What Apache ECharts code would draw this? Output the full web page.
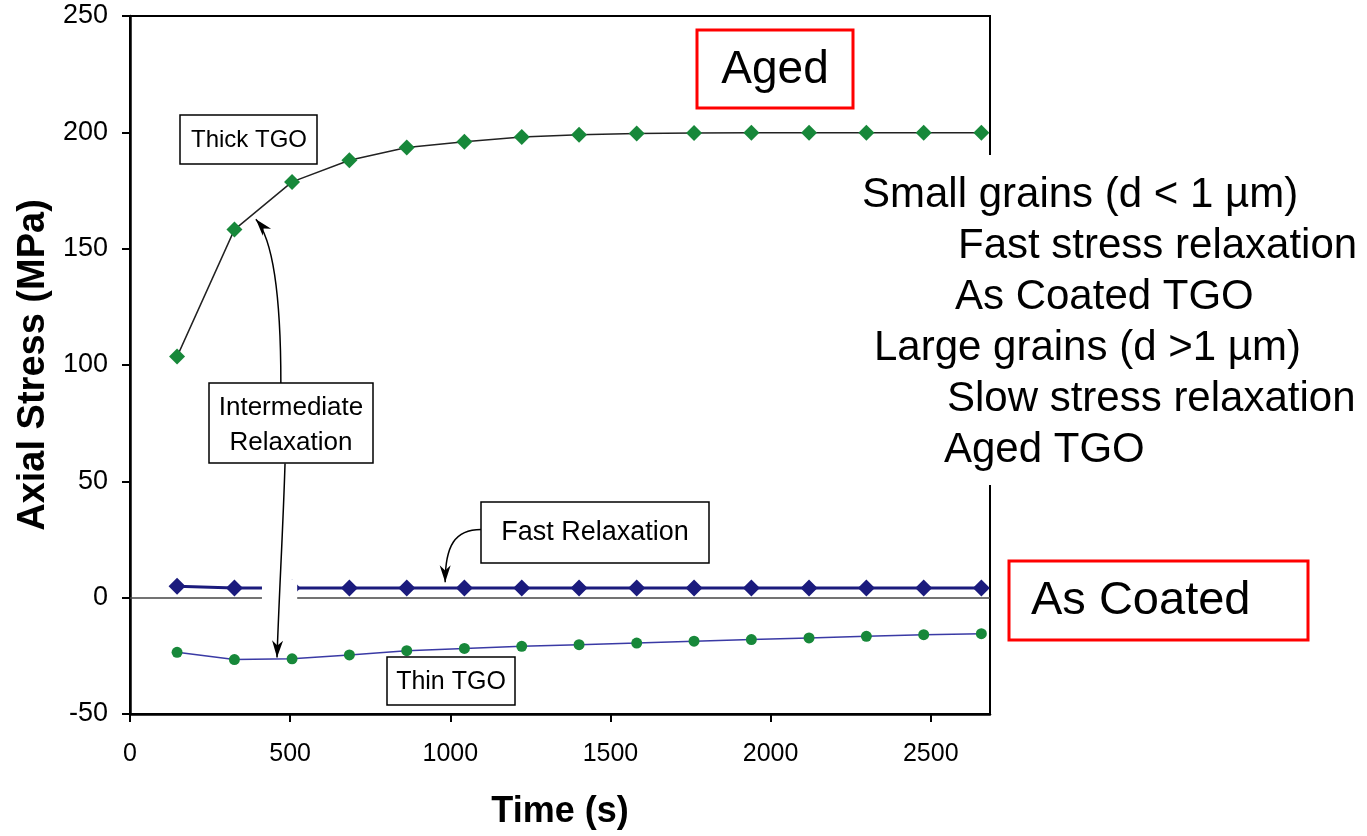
<!DOCTYPE html>
<html>
<head>
<meta charset="utf-8">
<script src="https://cdn.jsdelivr.net/npm/echarts@6/dist/echarts.min.js"></script>
<style>
  html, body { margin: 0; padding: 0; background: #fff; }
  #chart-container { width: 1367px; height: 836px; }
</style>
</head>
<body>
<div id="chart-container"></div>
<script>
// time (s) of each measurement
var times = [147, 326, 506, 685, 864, 1044, 1223, 1402, 1582, 1761, 1940, 2120, 2299, 2478, 2658];
// axial stress (MPa)
var thickTGO = [103.6, 158.2, 178.7, 188, 193.5, 196, 198, 199, 199.5, 199.7, 199.8, 199.8, 199.8, 199.8, 199.8];
var fastRelax = [4.9, 4.2, 4.2, 4.2, 4.2, 4.2, 4.2, 4.2, 4.2, 4.2, 4.2, 4.2, 4.2, 4.2, 4.2];
var thinTGO = [-23.5, -26.6, -26.3, -24.6, -22.8, -21.8, -20.9, -20.2, -19.5, -18.7, -18.0, -17.3, -16.6, -15.9, -15.5];

var notes = [
    'Small grains (d < 1 µm)',
    'Fast stress relaxation',
    'As Coated TGO',
    'Large grains (d >1 µm)',
    'Slow stress relaxation',
    'Aged TGO'
];

// annotation arrows in data coords: start, control 1, control 2, tip
var arrows = [
    [[471, 92.2], [471, 127.8], [449, 153.6], [393, 162.6]],
    [[484, 57.7], [478, 30], [465, 0], [459, -25.7]],
    [[1096, 29.3], [1015, 29.3], [984, 22.5], [984, 6.6]]
];

function pairs(ys) {
    return times.map(function (t, i) { return [t, ys[i]]; });
}

var green = '#17883a';
var navy = '#1b1b7d';
var sans = "'Liberation Sans', Arial, sans-serif";

var myChart = echarts.init(document.getElementById('chart-container'));

function box(x, y, w, h, color, lw) {
    return {
        type: 'rect', z: 100,
        shape: { x: x, y: y, width: w, height: h },
        style: { fill: '#fff', stroke: color, lineWidth: lw }
    };
}
function label(txt, x, y, size, align) {
    return {
        type: 'text', z: 101, x: x, y: y,
        style: { text: txt, font: size + 'px ' + sans, fill: '#000', align: align || 'center', verticalAlign: 'middle' }
    };
}

var graphics = [
    // gap in right frame behind the notes
    { type: 'rect', z: 90, shape: { x: 975, y: 155, width: 30, height: 330 }, style: { fill: '#fff' } },
    box(697, 30, 156, 78, '#ff0000', 3), label('Aged', 775, 70, 46),
    box(1009, 561, 299, 79, '#ff0000', 3), label('As Coated', 1031, 601, 47, 'left'),
    box(180, 115, 137, 49, '#000', 1.5), label('Thick TGO', 249, 140, 24),
    box(209, 383, 164, 80, '#000', 1.5), label('Intermediate', 291, 408, 26), label('Relaxation', 291, 443, 26),
    box(481, 502, 228, 61, '#000', 1.5), label('Fast Relaxation', 595, 533, 27),
    box(387, 657, 128, 48, '#000', 1.5), label('Thin TGO', 451, 682, 25)
];
var noteX = [862, 958, 955, 874, 947, 944];
notes.forEach(function (t, i) {
    graphics.push(label(t, noteX[i], 195 + i * 51, 42, 'left'));
});

var option = {
    animation: false,
    grid: {
        left: 130, right: 377, top: 16, bottom: 122,
        show: true, borderColor: '#000', borderWidth: 2
    },
    xAxis: {
        type: 'value',
        min: 0, max: 2685, interval: 500,
        name: 'Time (s)',
        nameLocation: 'middle',
        nameGap: 80,
        nameTextStyle: { fontFamily: sans, fontWeight: 'bold', fontSize: 36, color: '#000' },
        axisLine: { onZero: false, lineStyle: { color: '#000', width: 2.5 } },
        axisTick: { length: 8, lineStyle: { color: '#000', width: 2 } },
        axisLabel: {
            showMaxLabel: false, margin: 28, fontFamily: sans, fontSize: 25, color: '#000',
            formatter: function (v) { return String(v); }
        },
        splitLine: { show: false }
    },
    yAxis: {
        type: 'value',
        min: -50, max: 250, interval: 50,
        name: 'Axial Stress (MPa)',
        nameLocation: 'middle',
        nameGap: 76,
        nameTextStyle: { fontFamily: sans, fontWeight: 'bold', fontSize: 38, color: '#000' },
        axisLine: { lineStyle: { color: '#000', width: 2.5 } },
        axisTick: { length: 8, lineStyle: { color: '#000', width: 2 } },
        axisLabel: { margin: 22, fontFamily: sans, fontSize: 27, color: '#000' },
        splitLine: { show: false }
    },
    series: [
        {
            name: 'Thick TGO', type: 'line', data: pairs(thickTGO),
            symbol: 'diamond', symbolSize: 16,
            itemStyle: { color: green },
            lineStyle: { color: '#222', width: 1.5 }
        },
        {
            name: 'Fast Relaxation', type: 'line', data: pairs(fastRelax),
            symbol: 'diamond', symbolSize: 17,
            itemStyle: { color: navy },
            lineStyle: { color: navy, width: 3 },
            markLine: {
                z: 1, silent: true, symbol: 'none', label: { show: false },
                lineStyle: { color: '#444', width: 1.5, type: 'solid' },
                data: [{ yAxis: 0 }]
            }
        },
        {
            name: 'Thin TGO', type: 'line', data: pairs(thinTGO),
            symbol: 'circle', symbolSize: 11,
            itemStyle: { color: green },
            lineStyle: { color: '#3a3aa5', width: 1.5 }
        },
        {
            name: 'mask', type: 'line', data: [], z: 6,
            markArea: {
                z: 6, silent: true,
                itemStyle: { color: '#fff' },
                data: [[{ coord: [412, 7.7] }, { coord: [522, -0.9] }]]
            }
        }
    ],
    graphic: graphics
};

myChart.setOption(option);

// arrows: curves + heads placed from data coords
var arrowEls = [];
arrows.forEach(function (a) {
    var p = a.map(function (c) { return myChart.convertToPixel({ gridIndex: 0 }, c); });
    arrowEls.push({
        type: 'bezierCurve', z: 95, silent: true,
        shape: { x1: p[0][0], y1: p[0][1], cpx1: p[1][0], cpy1: p[1][1], cpx2: p[2][0], cpy2: p[2][1], x2: p[3][0], y2: p[3][1] },
        style: { stroke: '#000', lineWidth: 1.5, fill: null }
    });
    var dx = p[3][0] - p[2][0], dy = p[3][1] - p[2][1];
    var len = Math.sqrt(dx * dx + dy * dy);
    dx /= len; dy /= len;
    var L = 17, W = 5.5, tip = p[3];
    arrowEls.push({
        type: 'polygon', z: 96, silent: true,
        shape: { points: [
            tip,
            [tip[0] - dx * L - dy * W, tip[1] - dy * L + dx * W],
            [tip[0] - dx * L * 0.7, tip[1] - dy * L * 0.7],
            [tip[0] - dx * L + dy * W, tip[1] - dy * L - dx * W]
        ] },
        style: { fill: '#000' }
    });
});
myChart.setOption({ graphic: graphics.concat(arrowEls) });
</script>
</body>
</html>
